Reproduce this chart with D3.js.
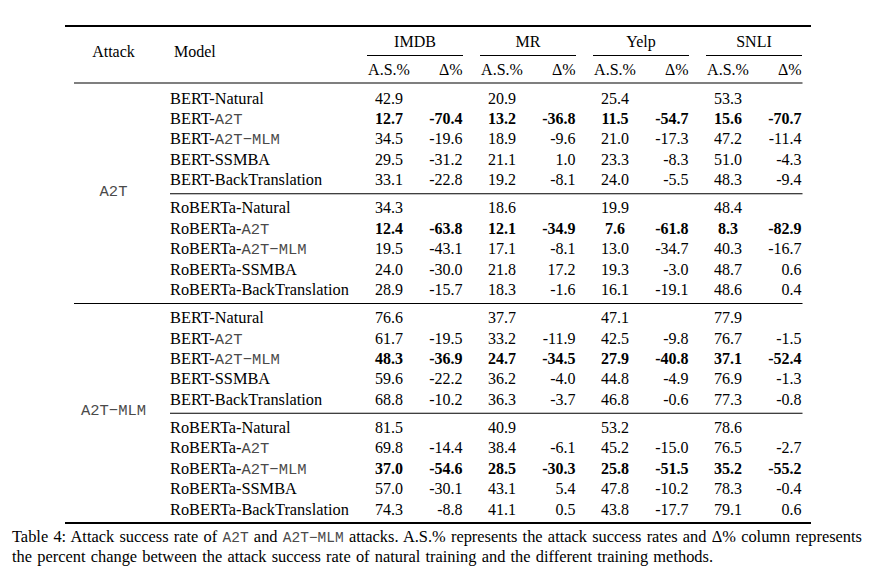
<!DOCTYPE html>
<html>
<head>
<meta charset="utf-8">
<script src="https://cdn.jsdelivr.net/npm/d3@7"></script>
<style>
  html, body { margin: 0; padding: 0; background: #fff; }
  svg { display: block; }
</style>
</head>
<body>
<div id="chart"></div>
<script>
// ---------------- data ----------------
const datasets = ["IMDB", "MR", "Yelp", "SNLI"];
const attacks = ["A2T", "A2T−MLM"];
const models = [
  "BERT-Natural", "BERT-A2T", "BERT-A2T-MLM", "BERT-SSMBA", "BERT-BackTranslation",
  "RoBERTa-Natural", "RoBERTa-A2T", "RoBERTa-A2T-MLM", "RoBERTa-SSMBA", "RoBERTa-BackTranslation"
];
const subHeaders = ["A.S.%", "Δ%"];

// attack = A2T
const successA2T = [
  [42.9, 20.9, 25.4, 53.3],
  [12.7, 13.2, 11.5, 15.6],
  [34.5, 18.9, 21.0, 47.2],
  [29.5, 21.1, 23.3, 51.0],
  [33.1, 19.2, 24.0, 48.3],
  [34.3, 18.6, 19.9, 48.4],
  [12.4, 12.1, 7.6, 8.3],
  [19.5, 17.1, 13.0, 40.3],
  [24.0, 21.8, 19.3, 48.7],
  [28.9, 18.3, 16.1, 48.6]
];
const deltaA2T = [
  [null, null, null, null],
  [-70.4, -36.8, -54.7, -70.7],
  [-19.6, -9.6, -17.3, -11.4],
  [-31.2, 1.0, -8.3, -4.3],
  [-22.8, -8.1, -5.5, -9.4],
  [null, null, null, null],
  [-63.8, -34.9, -61.8, -82.9],
  [-43.1, -8.1, -34.7, -16.7],
  [-30.0, 17.2, -3.0, 0.6],
  [-15.7, -1.6, -19.1, 0.4]
];
// attack = A2T-MLM
const successMLM = [
  [76.6, 37.7, 47.1, 77.9],
  [61.7, 33.2, 42.5, 76.7],
  [48.3, 24.7, 27.9, 37.1],
  [59.6, 36.2, 44.8, 76.9],
  [68.8, 36.3, 46.8, 77.3],
  [81.5, 40.9, 53.2, 78.6],
  [69.8, 38.4, 45.2, 76.5],
  [37.0, 28.5, 25.8, 35.2],
  [57.0, 43.1, 47.8, 78.3],
  [74.3, 41.1, 43.8, 79.1]
];
const deltaMLM = [
  [null, null, null, null],
  [-19.5, -11.9, -9.8, -1.5],
  [-36.9, -34.5, -40.8, -52.4],
  [-22.2, -4.0, -4.9, -1.3],
  [-10.2, -3.7, -0.6, -0.8],
  [null, null, null, null],
  [-14.4, -6.1, -15.0, -2.7],
  [-54.6, -30.3, -51.5, -55.2],
  [-30.1, 5.4, -10.2, -0.4],
  [-8.8, 0.5, -17.7, 0.6]
];
const boldA2T = ["BERT-A2T", "RoBERTa-A2T"];
const boldMLM = ["BERT-A2T-MLM", "RoBERTa-A2T-MLM"];

const captionLine1 = [
  ["Table 4: Attack success rate of ", false], ["A2T", true], [" and ", false], ["A2T−MLM", true],
  [" attacks. A.S.% represents the attack success rates and Δ% column represents", false]
];
const captionLine2 = "the percent change between the attack success rate of natural training and the different training methods.";

// ---------------- drawing ----------------
const W = 870, H = 582;
const SERIF = "'Liberation Serif', 'Times New Roman', serif";
const MONO = "'Liberation Mono', 'Courier New', monospace";
const MONO_FILL = "#4a4a4a";

const svg = d3.select("#chart").append("svg")
  .attr("width", W).attr("height", H)
  .attr("viewBox", `0 0 ${W} ${H}`);
svg.append("rect").attr("width", W).attr("height", H).attr("fill", "#fff");

const groups = attacks.map((a, i) => ({
  attack: a,
  success: i === 0 ? successA2T : successMLM,
  delta: i === 0 ? deltaA2T : deltaMLM,
  bold: i === 0 ? boldA2T : boldMLM
}));

const xData = d3.scaleBand().domain(datasets).range([367, 819]);
const asCenter = d => xData(d) + 22;
const dRight = d => xData(d) + 95.5;
const rowPitch = d3.scaleLinear().domain([0, 1]).range([98, 118.4]);
const rowY = i => rowPitch(i) + Math.floor(i / 5) * 7.8; // text centre
const BASE = 5.5; // baseline offset from centre

const fmt = v => v.toFixed(1);

function modelLabel(sel, name) {
  const m = name.match(/^(.*?-)(A2T(?:-MLM)?)$/);
  if (m) {
    sel.append("tspan").text(m[1]);
    sel.append("tspan").attr("font-family", MONO).attr("font-size", 15.5)
      .attr("fill", MONO_FILL).text(m[2].replace("-", "−"));
  } else {
    sel.text(name);
  }
}

// rules
function rule(x1, x2, y, w) {
  svg.append("line").attr("x1", x1).attr("x2", x2).attr("y1", y).attr("y2", y)
    .attr("stroke", "#000").attr("stroke-width", w);
}
rule(65, 811, 26, 2);
rule(74, 802.5, 83, 1.1);
datasets.forEach(d => rule(xData(d), dRight(d) + 0.5, 55.5, 1.1));

// header
const head = svg.append("g").attr("font-family", SERIF).attr("font-size", 16).attr("fill", "#000");
head.append("text").attr("x", 113.5).attr("y", 57).attr("text-anchor", "middle").text("Attack");
head.append("text").attr("x", 174).attr("y", 57).text("Model");
datasets.forEach(d => {
  head.append("text").attr("x", xData(d) + 48).attr("y", 47).attr("text-anchor", "middle").text(d);
  head.append("text").attr("x", asCenter(d)).attr("y", 75).attr("text-anchor", "middle").text(subHeaders[0]);
  head.append("text").attr("x", dRight(d)).attr("y", 75).attr("text-anchor", "end").text(subHeaders[1]);
});

// body
const body = svg.append("g").attr("font-family", SERIF).attr("font-size", 16).attr("fill", "#000");
groups.forEach((g, gi) => {
  const first = gi * 10;
  const cy = (rowY(first) + rowY(first + 9)) / 2;
  body.append("text").attr("x", 113.5).attr("y", cy + 2)
    .attr("text-anchor", "middle").attr("font-family", MONO).attr("font-size", 15.5)
    .attr("fill", MONO_FILL).text(g.attack);

  models.forEach((m, mi) => {
    const r = first + mi;
    const y = rowY(r) + BASE;
    const isBold = g.bold.includes(m);
    modelLabel(body.append("text").attr("x", 170).attr("y", y).attr("font-size", 16.35), m);
    datasets.forEach((d, di) => {
      body.append("text").attr("x", asCenter(d)).attr("y", y)
        .attr("text-anchor", "middle").attr("font-weight", isBold ? "bold" : null)
        .text(fmt(g.success[mi][di]));
      const dv = g.delta[mi][di];
      if (dv !== null) {
        body.append("text").attr("x", dRight(d)).attr("y", y)
          .attr("text-anchor", "end").attr("font-weight", isBold ? "bold" : null)
          .text(fmt(dv));
      }
    });
  });
  // rule between BERT and RoBERTa blocks
  rule(170, 802.5, (rowY(first + 4) + rowY(first + 5)) / 2, 1.1);
});
rule(74, 802.5, (rowY(9) + rowY(10)) / 2, 1.1);
rule(65, 811, (rowY(19)) + 14, 2);

// caption
const cap = svg.append("g").attr("font-family", SERIF).attr("font-size", 16.4).attr("fill", "#000");
function justify(textSel, plain, target) {
  const natural = textSel.node().getComputedTextLength();
  const spaces = plain.split(" ").length - 1;
  textSel.attr("word-spacing", (target - natural) / spaces);
}
const l1 = cap.append("text").attr("x", 12).attr("y", 542);
captionLine1.forEach(([t, mono]) => {
  const ts = l1.append("tspan").text(t);
  if (mono) ts.attr("font-family", MONO).attr("font-size", 14.5).attr("fill", MONO_FILL);
});
justify(l1, captionLine1.map(p => p[0]).join(""), 862 - 12);
const l2 = cap.append("text").attr("x", 12).attr("y", 562).text(captionLine2);
justify(l2, captionLine2, 713 - 12);
</script>
</body>
</html>
